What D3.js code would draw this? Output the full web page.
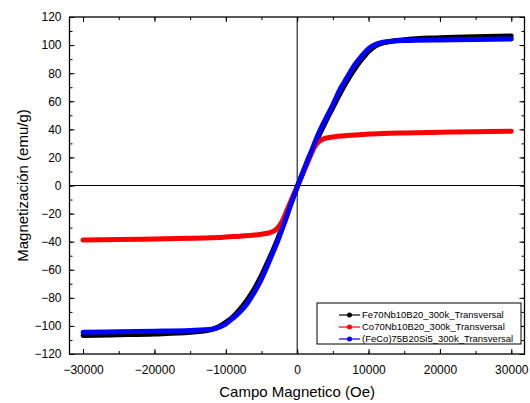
<!DOCTYPE html>
<html>
<head>
<meta charset="utf-8">
<script src="https://cdn.jsdelivr.net/npm/d3@7"></script>
<style>
  body { margin: 0; background: #fff; }
  svg { display: block; font-family: "Liberation Sans", Arial, sans-serif; }
</style>
</head>
<body>
<div id="chart"></div>
<script>
const width = 530;
const height = 403;

// applied field (Oe), shared by all three series
const field = [-30000, -25000, -20000, -15000, -12000, -11000, -10000, -9000, -8000, -7000,
  -6000, -5000, -4000, -3500, -3000, -2500, -2000, -1500, -1000, -500, 0,
  500, 1000, 1500, 2000, 2500, 3000, 3500, 4000, 5000, 6000, 7000, 8000, 9000,
  10000, 11000, 12000, 15000, 20000, 25000, 30000];

// magnetization (emu/g)
const feNbB = [-106.8, -106.3, -105.7, -104.6, -102.6, -100.6, -97.5, -93.5, -88, -81.5,
  -73.5, -64, -53, -47.3, -41.5, -35, -28.5, -21.5, -14.5, -7.8, -1,
  5.3, 11.5, 17.5, 23.5, 29.3, 35, 40.3, 45.5, 55.5, 65.5, 74.5, 82.5, 89.5,
  95.5, 99.5, 101.5, 103.8, 105.2, 106, 106.5];

const coNbB = [-38.9, -38.5, -38.1, -37.6, -37.2, -37.0, -36.7, -36.4, -36.1, -35.7,
  -35.3, -34.7, -33.8, -33, -31.5, -28.8, -24.5, -18.5, -12.5, -6.5, -1,
  5, 11, 17, 23, 28, 31, 32.7, 33.7, 34.6, 35.2, 35.6, 36, 36.3,
  36.6, 36.8, 37, 37.4, 37.9, 38.3, 38.6];

const feCoBSi = [-104.5, -104.2, -103.8, -103.2, -102.3, -101, -98.5, -94.5, -90, -84,
  -76, -66.5, -55, -49, -43, -36.5, -29.5, -22.5, -15, -8, -1,
  5.5, 12, 18.5, 24.5, 31, 37, 42.5, 47.5, 57.5, 68.5, 77, 85.5, 92,
  97.5, 100.5, 102, 103.2, 103.7, 104, 104.3];

const seriesNames = ["Fe70Nb10B20_300k_Transversal", "Co70Nb10B20_300k_Transversal", "(FeCo)75B20Si5_300k_Transversal"];
const seriesColors = ["#000000", "#ff0000", "#0000ff"];
const seriesValues = [feNbB, coNbB, feCoBSi];

const xTicks = [-30000, -20000, -10000, 0, 10000, 20000, 30000];
const yTicks = [-120, -100, -80, -60, -40, -20, 0, 20, 40, 60, 80, 100, 120];

const margin = { left: 69.5, right: 5.5, top: 17, bottom: 49 };

const x = d3.scaleLinear()
  .domain([-31900, 31850])
  .range([margin.left, width - margin.right]);

const y = d3.scaleLinear()
  .domain([-120, 120])
  .range([height - margin.bottom, margin.top]);

const svg = d3.select("#chart").append("svg")
  .attr("width", width)
  .attr("height", height);

const x0 = margin.left, x1 = width - margin.right;
const y0 = height - margin.bottom, y1 = margin.top;

// zero lines
svg.append("line")
  .attr("x1", x0).attr("x2", x1)
  .attr("y1", y(0)).attr("y2", y(0))
  .attr("stroke", "#000").attr("stroke-width", 1);
svg.append("line")
  .attr("x1", x(0)).attr("x2", x(0))
  .attr("y1", y0).attr("y2", y1)
  .attr("stroke", "#000").attr("stroke-width", 1);

// curves
const line = d3.line()
  .x((d, i) => x(field[i]))
  .y(d => y(d))
  .curve(d3.curveMonotoneX);

svg.append("g")
  .selectAll("path")
  .data(seriesValues)
  .join("path")
  .attr("fill", "none")
  .attr("stroke", (d, i) => seriesColors[i])
  .attr("stroke-width", 5)
  .attr("stroke-linecap", "round")
  .attr("stroke-linejoin", "round")
  .attr("d", line);

// axes, ticks inward on all four sides
const xMinor = d3.range(-30000, 30001, 5000);
const yMinor = d3.range(-120, 121, 10);

svg.append("g")
  .attr("transform", `translate(0,${y0})`)
  .call(d3.axisBottom(x).tickValues(xMinor).tickSize(-3).tickFormat(""));
svg.append("g")
  .attr("transform", `translate(0,${y0})`)
  .call(d3.axisBottom(x).tickValues(xTicks).tickSize(-5).tickPadding(11).tickFormat(d3.format("d")));
svg.append("g")
  .attr("transform", `translate(0,${y1})`)
  .call(d3.axisTop(x).tickValues(xMinor).tickSize(-3).tickFormat(""));
svg.append("g")
  .attr("transform", `translate(0,${y1})`)
  .call(d3.axisTop(x).tickValues(xTicks).tickSize(-5).tickFormat(""));

svg.append("g")
  .attr("transform", `translate(${x0},0)`)
  .call(d3.axisLeft(y).tickValues(yMinor).tickSize(-3).tickFormat(""));
svg.append("g")
  .attr("transform", `translate(${x0},0)`)
  .call(d3.axisLeft(y).tickValues(yTicks).tickSize(-5).tickPadding(8).tickFormat(d3.format("d")));
svg.append("g")
  .attr("transform", `translate(${x1},0)`)
  .call(d3.axisRight(y).tickValues(yMinor).tickSize(-3).tickFormat(""));
svg.append("g")
  .attr("transform", `translate(${x1},0)`)
  .call(d3.axisRight(y).tickValues(yTicks).tickSize(-5).tickFormat(""));

svg.selectAll(".domain").remove();
svg.selectAll(".tick line").attr("stroke", "#000").attr("stroke-width", 1);
svg.selectAll(".tick text")
  .attr("font-size", 12)
  .attr("fill", "#000")
  .attr("font-family", "Liberation Sans, Arial, sans-serif");

// frame
svg.append("rect")
  .attr("x", x0).attr("y", y1)
  .attr("width", x1 - x0).attr("height", y0 - y1)
  .attr("fill", "none")
  .attr("stroke", "#000")
  .attr("stroke-width", 1.3);

// axis titles
svg.append("text")
  .attr("x", x(0))
  .attr("y", 397)
  .attr("text-anchor", "middle")
  .attr("font-size", 15)
  .text("Campo Magnetico (Oe)");

svg.append("text")
  .attr("transform", `translate(28,${y(0)}) rotate(-90)`)
  .attr("text-anchor", "middle")
  .attr("font-size", 15)
  .text("Magnetización (emu/g)");

// legend
const legend = svg.append("g");
legend.append("rect")
  .attr("x", 317).attr("y", 303)
  .attr("width", 204).attr("height", 41)
  .attr("fill", "#fff")
  .attr("stroke", "#000")
  .attr("stroke-width", 1);

const item = legend.selectAll("g")
  .data(seriesNames)
  .join("g")
  .attr("transform", (d, i) => `translate(0,${315 + i * 12})`);

item.append("line")
  .attr("x1", 339).attr("x2", 360)
  .attr("stroke", (d, i) => seriesColors[i])
  .attr("stroke-width", 1.2);
item.append("circle")
  .attr("cx", 349.5).attr("r", 2.5)
  .attr("fill", (d, i) => seriesColors[i]);
item.append("text")
  .attr("x", 362)
  .attr("dy", "0.35em")
  .attr("font-size", 9.5)
  .text(d => d);
</script>
</body>
</html>
